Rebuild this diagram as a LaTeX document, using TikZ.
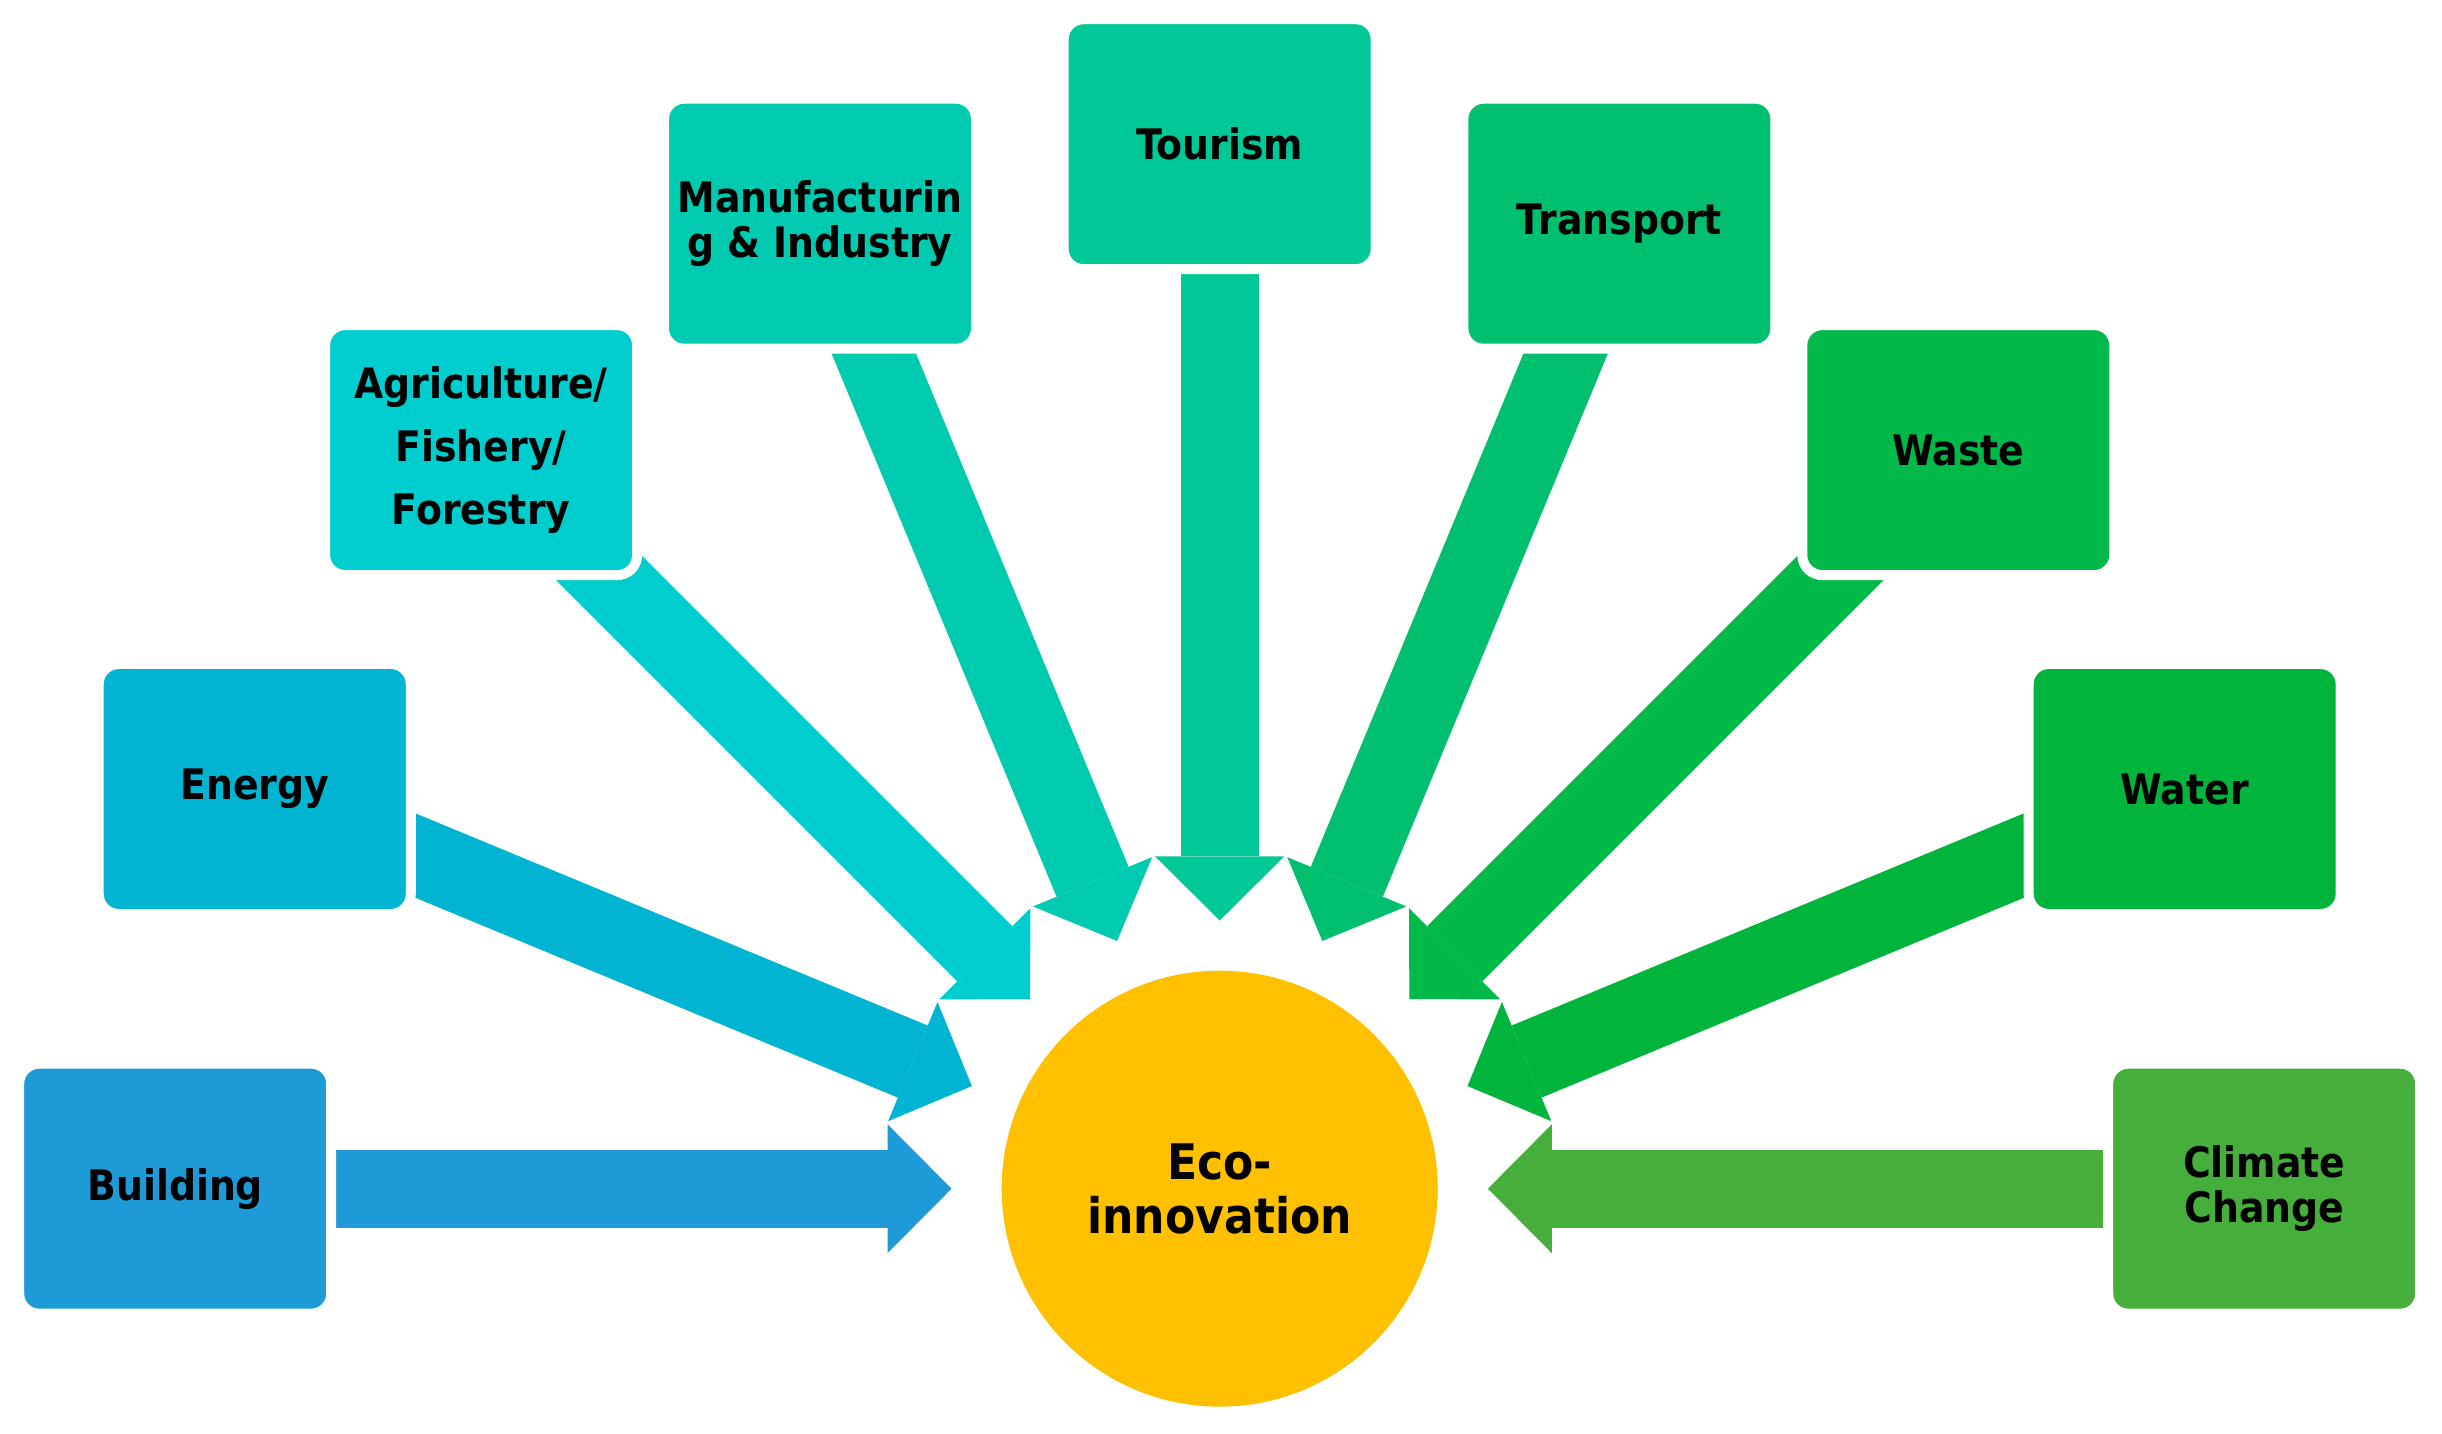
\documentclass[tikz,border=0pt]{standalone}
\usepackage{fontspec}
\setmainfont{DejaVu Sans}[FakeStretch=0.9]
\usetikzlibrary{arrows.meta,backgrounds,calc}
\definecolor{cbuilding}{HTML}{1E9BD7}
\definecolor{cenergy}{HTML}{00B4D2}
\definecolor{cagri}{HTML}{00CECE}
\definecolor{cmanu}{HTML}{00CAB0}
\definecolor{ctourism}{HTML}{00C896}
\definecolor{ctransport}{HTML}{00C070}
\definecolor{cwaste}{HTML}{00B948}
\definecolor{cwater}{HTML}{00B43C}
\definecolor{cclimate}{HTML}{46AF3C}
\definecolor{chub}{HTML}{FFC000}
\tikzset{
  sector/.style={
    % The shape:
    rectangle,
    rounded corners=20pt,
    % The size:
    minimum width=312pt,
    minimum height=250pt,
    inner sep=0pt,
    % The border:
    line width=10pt,
    draw=white,
    % The text:
    align=center,
    font=\fontsize{42}{45}\selectfont\bfseries},
  hub/.style={
    % The shape:
    circle,
    minimum size=436pt,
    inner sep=0pt,
    % The rest
    fill=chub,
    align=center,
    font=\fontsize{49}{54.3}\selectfont\bfseries},
  flow/.style={line width=78pt,
    -{Triangle[width=129pt,length=64pt,line width=0pt]},
    shorten >=50pt,
    % thin white rim round each arrow
    preaction={draw=white,line width=84pt,
      -{Triangle[width=143pt,length=71pt,line width=0pt]},
      shorten >=45.8pt}}
}

\begin{document}
\begin{tikzpicture}[x=1pt,y=1pt]
  \useasboundingbox (0,0) rectangle (2442,1434);
  \node (eco) [hub] at (1219.7,245.3) {Eco-\\innovation};

  \node (building)  [sector,fill=cbuilding]  at ($(eco)+(180:1044.5pt)$)   {Building};
  \node (energy)    [sector,fill=cenergy]    at ($(eco)+(157.5:1044.5pt)$) {Energy};
  \node (agri)      [sector,fill=cagri,font=\fontsize{42}{63}\selectfont\bfseries]
                                             at ($(eco)+(135:1044.5pt)$)   {Agriculture/\\Fishery/\\Forestry};
  \node (manu)      [sector,fill=cmanu]      at ($(eco)+(112.5:1044.5pt)$) {Manufacturin\\g \& Industry};
  \node (tourism)   [sector,fill=ctourism]   at ($(eco)+(90:1044.5pt)$)    {Tourism};
  \node (transport) [sector,fill=ctransport] at ($(eco)+(67.5:1044.5pt)$)  {Transport};
  \node (waste)     [sector,fill=cwaste]     at ($(eco)+(45:1044.5pt)$)    {Waste};
  \node (water)     [sector,fill=cwater]     at ($(eco)+(22.5:1044.5pt)$)  {Water};
  \node (climate)   [sector,fill=cclimate]   at ($(eco)+(0:1044.5pt)$)     {Climate\\Change};

  \begin{scope}[on background layer]
    \foreach \n in {building,energy,agri,manu,tourism,transport,waste,water,climate}
      \draw [flow,draw=c\n] (\n.center) -- (eco);
  \end{scope}
\end{tikzpicture}
\end{document}
